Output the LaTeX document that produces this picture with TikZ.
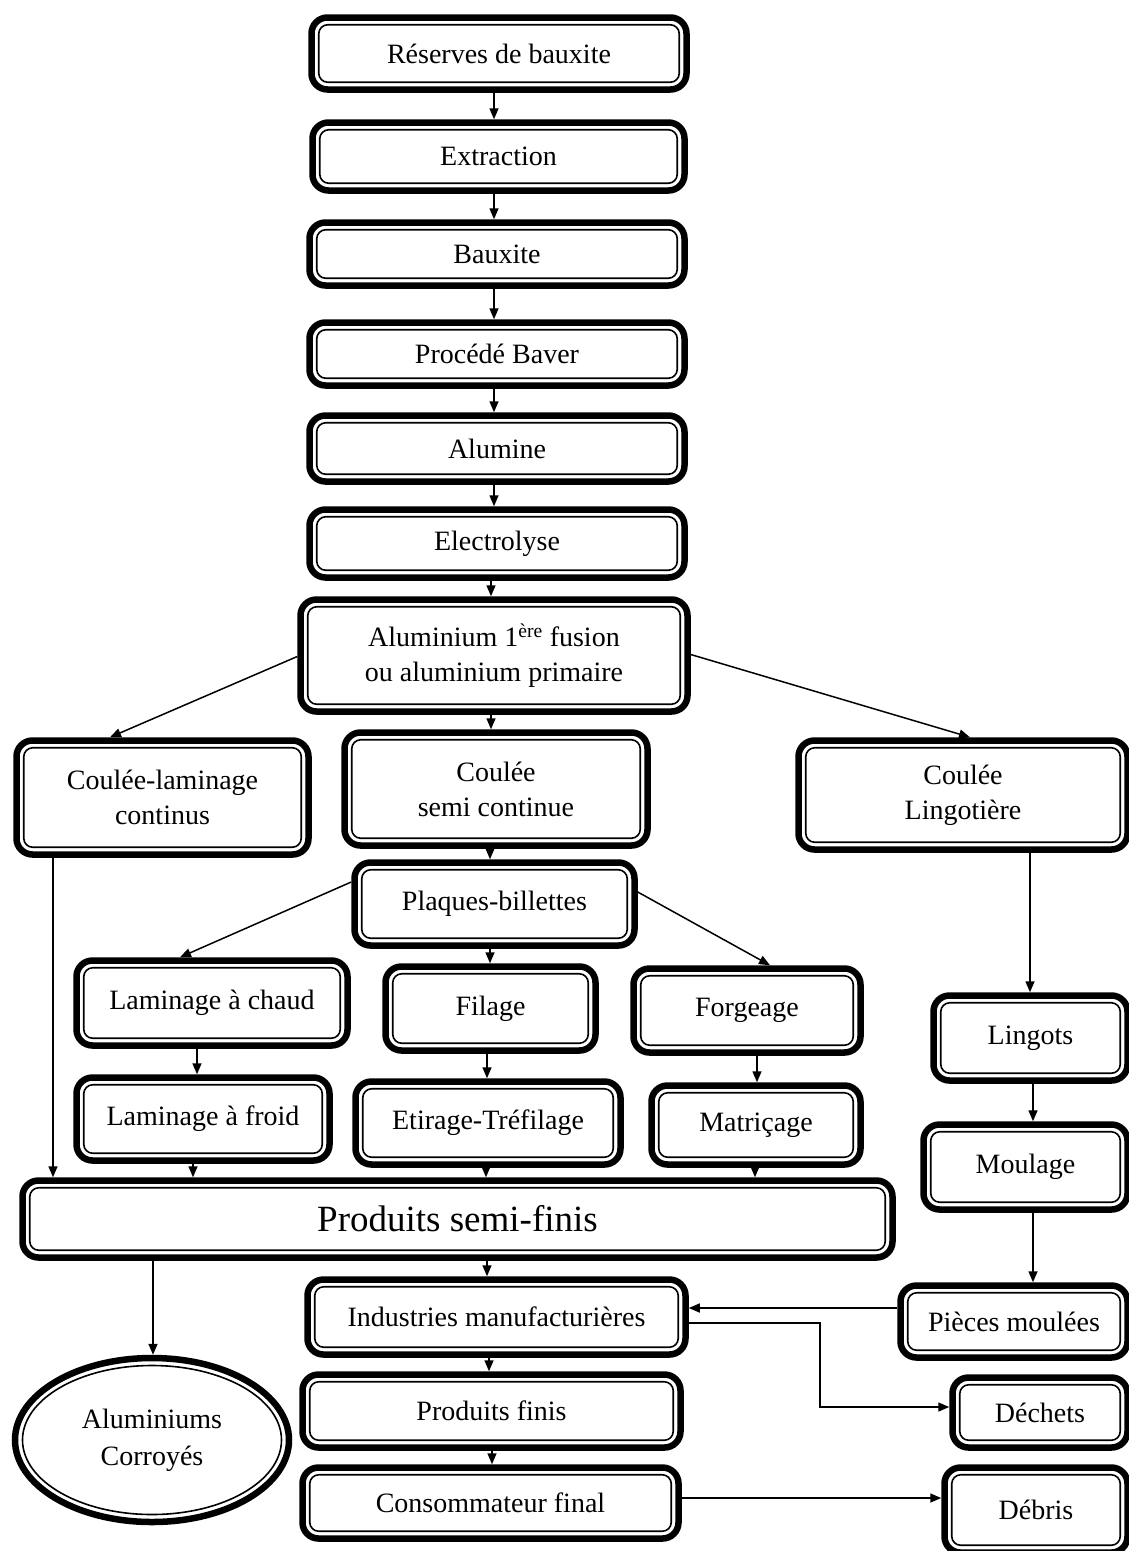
\documentclass[tikz,border=0pt]{standalone}
\usepackage{fontspec}
\setmainfont{Liberation Serif}
\usetikzlibrary{arrows.meta,shapes.geometric}
\tikzset{
  bx/.style={draw, line width=6.5pt, rounded corners=16pt, fill=white, outer sep=3.25pt,
    inner sep=0pt, align=center, font=\fontsize{28}{35}\selectfont},
  inbx/.style={line width=1.6pt, rounded corners=9pt},
  arr/.style={line width=1.5pt, -{Triangle[length=11pt,width=9pt]}},
}
\newcommand{\varr}[3]{\coordinate (vx) at (#3,0); \draw[arr] (#1.south -| vx) -- (#2.north -| vx);}
\begin{document}
\begin{tikzpicture}[x=1pt,y=-1pt]
\useasboundingbox (0,0) rectangle (1128,1551);
% main stack
\node[bx, minimum width=375, minimum height=72] (res) at (499,53.5) {Réserves de bauxite};
\node[bx, minimum width=372, minimum height=68] (ext) at (498.5,156.5) {Extraction};
\node[bx, minimum width=375, minimum height=63] (bau) at (497,254) {Bauxite};
\node[bx, minimum width=375, minimum height=63] (bay) at (497,354) {Procédé Baver};
\node[bx, minimum width=375, minimum height=66] (alu) at (497,448.5) {Alumine};
\node[bx, minimum width=375, minimum height=68] (ele) at (497,543.5) {Electrolyse};
\node[bx, minimum width=387, minimum height=112] (prim) at (494,655.5) {Aluminium 1\textsuperscript{ère} fusion\\ou aluminium primaire};
% casting
\node[bx, minimum width=292, minimum height=114] (clc) at (162.5,797.5) {Coulée-laminage\\continus};
\node[bx, minimum width=303, minimum height=113] (csc) at (496,789) {Coulée\\semi continue};
\node[bx, minimum width=329, minimum height=109] (cli) at (963,795) {Coulée\\Lingotière};
\node[bx, minimum width=280, minimum height=83] (pb) at (494.5,904) {Plaques-billettes};
\node[bx, minimum width=271, minimum height=85] (lch) at (212,1003) {Laminage à chaud};
\node[bx, minimum width=210, minimum height=84] (fil) at (490.5,1008.5) {Filage};
\node[bx, minimum width=227, minimum height=84] (forg) at (747,1010.5) {Forgeage};
\node[bx, minimum width=194, minimum height=85] (ling) at (1030.5,1038) {Lingots};
\node[bx, minimum width=253, minimum height=83] (lfr) at (203,1119) {Laminage à froid};
\node[bx, minimum width=265, minimum height=83] (eti) at (488,1123) {Etirage-Tréfilage};
\node[bx, minimum width=209, minimum height=79] (mat) at (756,1125) {Matriçage};
\node[bx, minimum width=204, minimum height=85] (moul) at (1025.5,1167) {Moulage};
\node[bx, minimum width=870, minimum height=77, font=\fontsize{37}{40}\selectfont] (psf) at (457.5,1219) {Produits semi-finis};
\node[bx, minimum width=378, minimum height=75] (ind) at (496.5,1317) {Industries manufacturières};
\node[bx, minimum width=227, minimum height=72] (pm) at (1014,1321.5) {Pièces moulées};
\node[draw, ellipse, line width=6.5pt, outer sep=3.25pt, inner sep=0pt, minimum width=274, minimum height=164, align=center, font=\fontsize{28}{37}\selectfont] (ell) at (152,1440) {Aluminiums\\Corroyés};
\node[bx, minimum width=378, minimum height=73] (pf) at (491.5,1411) {Produits finis};
\node[bx, minimum width=175, minimum height=70] (dec) at (1040,1412.5) {Déchets};
\node[bx, minimum width=376, minimum height=71] (cons) at (490.5,1503) {Consommateur final};
\node[bx, minimum width=183, minimum height=85] (deb) at (1036,1510) {Débris};
% inner borders
\foreach \n in {res,ext,bau,bay,alu,ele,prim,clc,csc,cli,pb,lch,fil,forg,ling,lfr,eti,mat,moul,psf,ind,pm,pf,dec,cons,deb}
  \draw[inbx] ([shift={(10.5pt,-10.5pt)}]\n.north west) rectangle ([shift={(-10.5pt,10.5pt)}]\n.south east);
\draw[line width=1.6pt] (ell.center) ellipse [x radius=129.5, y radius=74.5];
% connectors
\varr{res}{ext}{494}
\varr{ext}{bau}{494}
\varr{bau}{bay}{494}
\varr{bay}{alu}{494}
\varr{alu}{ele}{494}
\varr{ele}{prim}{491}
\varr{prim}{csc}{491}
\varr{csc}{pb}{490}
\varr{pb}{fil}{490}
\varr{cli}{ling}{1030}
\varr{lch}{lfr}{197}
\varr{fil}{eti}{487}
\varr{forg}{mat}{757}
\varr{ling}{moul}{1033}
\varr{clc}{psf}{53}
\varr{lfr}{psf}{193}
\varr{eti}{psf}{486}
\varr{mat}{psf}{755}
\varr{moul}{pm}{1033}
\varr{psf}{ell}{153}
\varr{psf}{ind}{487}
\varr{ind}{pf}{489}
\varr{pf}{cons}{492}
\coordinate (c8) at (110,0);
\coordinate (c10) at (970,0);
\coordinate (c12) at (180,0);
\coordinate (c14) at (770,0);
\draw[arr] ([yshift=-1pt]prim.west) -- (clc.north -| c8);
\draw[arr] ([yshift=1pt]prim.east) -- (cli.north -| c10);
\draw[arr] ([yshift=22pt]pb.west) -- (lch.north -| c12);
\draw[arr] ([yshift=12pt]pb.east) -- (forg.north -| c14);
\coordinate (ypm) at (0,1308);
\draw[arr] (pm.west |- ypm) -- (ind.east |- ypm);
\coordinate (k1) at (820,1323);
\coordinate (k2) at (820,1407);
\draw[arr] (ind.east |- k1) -- (k1) -- (k2) -- (dec.west |- k2);
\coordinate (ydb) at (0,1498);
\draw[arr] (cons.east |- ydb) -- (deb.west |- ydb);
\end{tikzpicture}
\end{document}
